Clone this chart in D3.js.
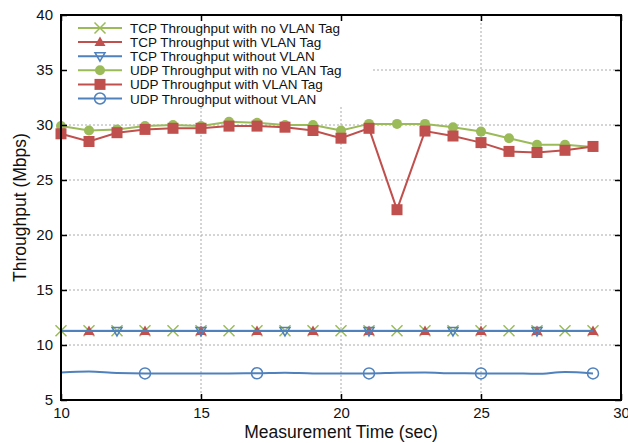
<!DOCTYPE html>
<html>
<head>
<meta charset="utf-8">
<script src="https://cdn.jsdelivr.net/npm/d3@7"></script>
<style>
body { margin: 0; background: #fff; }
svg text { font-family: "Liberation Sans", Arial, sans-serif; fill: #111; }
</style>
</head>
<body>
<div id="chart"></div>
<script>
// seconds 10..29
var times = d3.range(10, 30);

var tcpNoVlan   = [11.3,11.3,11.3,11.3,11.3,11.3,11.3,11.3,11.3,11.3,11.3,11.3,11.3,11.3,11.3,11.3,11.3,11.3,11.3,11.3];
var tcpVlan     = [11.28,11.28,11.28,11.28,11.28,11.28,11.28,11.28,11.28,11.28,11.28,11.28,11.28,11.28,11.28,11.28,11.28,11.28,11.28,11.28];
var tcpWithout  = [11.28,11.28,11.28,11.28,11.28,11.28,11.28,11.28,11.28,11.28,11.28,11.28,11.28,11.28,11.28,11.28,11.28,11.28,11.28,11.28];
var udpNoVlan   = [29.9,29.5,29.6,29.9,30.0,29.9,30.3,30.2,30.0,30.0,29.5,30.1,30.1,30.1,29.8,29.4,28.8,28.2,28.2,28.0];
var udpVlan     = [29.2,28.5,29.3,29.6,29.7,29.7,29.9,29.9,29.8,29.5,28.8,29.7,22.3,29.45,29.0,28.4,27.6,27.5,27.7,28.05];
var udpWithout  = [7.5,7.58,7.45,7.42,7.42,7.42,7.42,7.43,7.47,7.42,7.42,7.42,7.48,7.5,7.43,7.42,7.42,7.38,7.55,7.42];

var xTicks = [10, 15, 20, 25, 30];
var yTicks = [5, 10, 15, 20, 25, 30, 35, 40];

var green = "#9bbb59", red = "#c0504d", blue = "#4f81bd";

// every series, with which points carry a marker
var series = [
    {name: "TCP Throughput with no VLAN Tag", values: tcpNoVlan,  color: green, marker: "cross",   every: function (t) { return true; }},
    {name: "TCP Throughput with VLAN Tag",    values: tcpVlan,    color: red,   marker: "tri",     every: function (t) { return t % 2 == 1; }},
    {name: "TCP Throughput without VLAN",     values: tcpWithout, color: blue,  marker: "triDown", every: function (t) { return t % 3 == 0; }},
    {name: "UDP Throughput with no VLAN Tag", values: udpNoVlan,  color: green, marker: "circle",  every: function (t) { return true; }},
    {name: "UDP Throughput with VLAN Tag",    values: udpVlan,    color: red,   marker: "square",  every: function (t) { return true; }},
    {name: "UDP Throughput without VLAN",     values: udpWithout, color: blue,  marker: "ring",    every: function (t) { return t % 4 == 1; }, smooth: true}
];

var W = 628, H = 443;
var margin = {top: 15, right: 7, bottom: 43, left: 61};
var w = W - margin.left - margin.right, h = H - margin.top - margin.bottom;

var svg = d3.select("#chart").append("svg").attr("width", W).attr("height", H);
var g = svg.append("g").attr("transform", "translate(" + margin.left + "," + margin.top + ")");

var x = d3.scaleLinear().domain([10, 30]).range([0, w]);
var y = d3.scaleLinear().domain([5, 40]).range([h, 0]);

// grid
g.selectAll(".gx").data(xTicks.slice(1, -1)).enter().append("line")
    .attr("x1", x).attr("x2", x).attr("y1", 0).attr("y2", h)
    .attr("stroke", "#aaa").attr("stroke-width", 1).attr("stroke-dasharray", "2,2");
g.selectAll(".gy").data(yTicks.slice(1, -1)).enter().append("line")
    .attr("y1", y).attr("y2", y).attr("x1", 0).attr("x2", w)
    .attr("stroke", "#aaa").attr("stroke-width", 1).attr("stroke-dasharray", "2,2");

// legend background hides the grid behind it
g.append("rect").attr("x", 0).attr("y", 0).attr("width", 312).attr("height", 92).attr("fill", "#fff");

function drawMarker(sel, type, color) {
    var s = 5.5;
    if (type == "cross") {
        sel.append("path").attr("d", "M" + (-s) + "," + (-s) + "L" + s + "," + s + "M" + (-s) + "," + s + "L" + s + "," + (-s))
            .attr("stroke", color).attr("stroke-width", 1.5).attr("fill", "none");
    } else if (type == "tri") {
        sel.append("path").attr("d", "M0,-5.5L5.5,4L-5.5,4Z").attr("fill", color);
    } else if (type == "triDown") {
        sel.append("path").attr("d", "M0,5L5,-3.5L-5,-3.5Z").attr("fill", "none").attr("stroke", color).attr("stroke-width", 1.5);
    } else if (type == "circle") {
        sel.append("circle").attr("r", 5).attr("fill", color);
    } else if (type == "square") {
        sel.append("rect").attr("x", -5.5).attr("y", -5.5).attr("width", 11).attr("height", 11).attr("fill", color);
    } else if (type == "ring") {
        sel.append("circle").attr("r", 5.5).attr("fill", "none").attr("stroke", color).attr("stroke-width", 1.5);
    }
}

series.forEach(function (s) {
    var pts = times.map(function (t, i) { return [t, s.values[i]]; });
    var line = d3.line().x(function (d) { return x(d[0]); }).y(function (d) { return y(d[1]); });
    if (s.smooth) line.curve(d3.curveMonotoneX);
    g.append("path").datum(pts).attr("d", line)
        .attr("fill", "none").attr("stroke", s.color).attr("stroke-width", 2);
    g.selectAll(null).data(pts.filter(function (d) { return s.every(d[0]); })).enter().append("g")
        .attr("transform", function (d) { return "translate(" + x(d[0]) + "," + y(d[1]) + ")"; })
        .each(function () { drawMarker(d3.select(this), s.marker, s.color); });
});

// legend
var legend = g.append("g").selectAll("g").data(series).enter().append("g")
    .attr("transform", function (d, i) { return "translate(0," + (13 + i * 14.1) + ")"; });
legend.append("line").attr("x1", 17).attr("x2", 61).attr("stroke", function (d) { return d.color; }).attr("stroke-width", 2);
legend.each(function (d) {
    var m = d3.select(this).append("g").attr("transform", "translate(39,0)");
    drawMarker(m, d.marker, d.color);
});
legend.append("text").attr("x", 69).attr("y", 5).style("font-size", "13.5px").text(function (d) { return d.name; });

// axes with inward ticks on all four sides
g.append("g").attr("transform", "translate(0," + h + ")")
    .call(d3.axisBottom(x).tickValues(xTicks).tickSizeInner(-6).tickSizeOuter(0).tickPadding(7));
g.append("g").call(d3.axisTop(x).tickValues(xTicks).tickSizeInner(-6).tickSizeOuter(0).tickFormat(""));
g.append("g").call(d3.axisLeft(y).tickValues(yTicks).tickSizeInner(-6).tickSizeOuter(0).tickPadding(8));
g.append("g").attr("transform", "translate(" + w + ",0)")
    .call(d3.axisRight(y).tickValues(yTicks).tickSizeInner(-6).tickSizeOuter(0).tickFormat(""));
g.selectAll(".tick line").attr("stroke", "#000").attr("stroke-width", 1.5);
g.selectAll(".domain").remove();
g.selectAll(".tick text").style("font-size", "15px").attr("fill", "#111")
    .style("font-family", "'Liberation Sans', Arial, sans-serif");

g.append("rect").attr("width", w).attr("height", h).attr("fill", "none").attr("stroke", "#000").attr("stroke-width", 2);

// axis titles
svg.append("text").attr("x", margin.left + w / 2).attr("y", 438).attr("text-anchor", "middle")
    .style("font-size", "17.5px").text("Measurement Time (sec)");
svg.append("text").attr("transform", "translate(26," + (margin.top + h / 2) + ") rotate(-90)")
    .attr("text-anchor", "middle").style("font-size", "17.5px").text("Throughput (Mbps)");
</script>
</body>
</html>
